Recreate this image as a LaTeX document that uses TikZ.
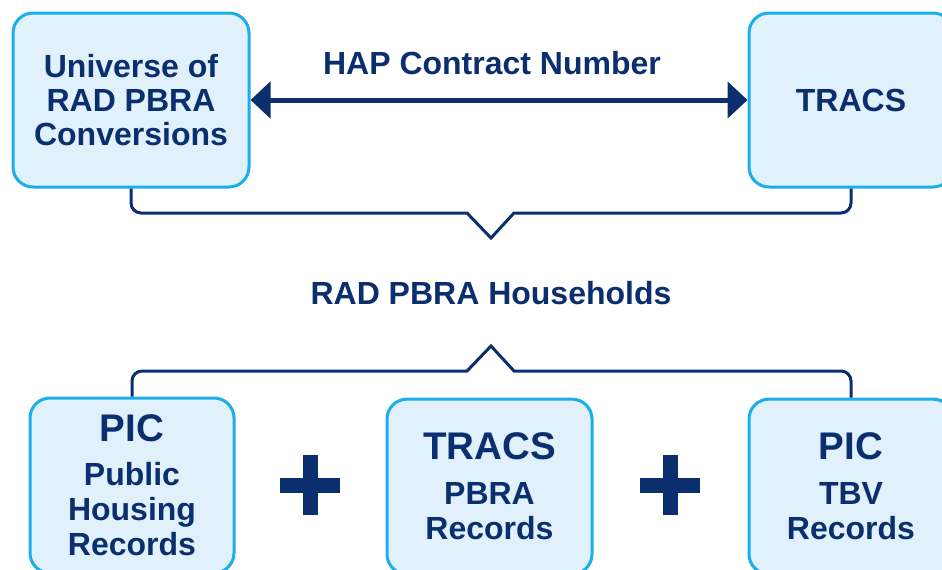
\documentclass[tikz,border=0pt]{standalone}
\usepackage{fontspec}
\setmainfont{Liberation Sans}
\usetikzlibrary{arrows.meta, positioning, calc}
\definecolor{cnavy}{HTML}{0B2F6E}
\definecolor{ccyan}{HTML}{1AAFEA}
\definecolor{cfill}{HTML}{E0F1FB}
\tikzset{
  every picture/.style={font=\bfseries, line width=3pt},
  box/.style={draw=ccyan, fill=cfill, rounded corners=20pt, align=center, text=cnavy, inner sep=0pt, font=\fontsize{32}{34}\selectfont\bfseries},
  lowbox/.style={box, minimum height=175pt, font=\fontsize{32}{35}\selectfont\bfseries},
  arrow/.style={{Triangle[length=20pt,width=36pt]}-{Triangle[length=20pt,width=36pt]}, draw=cnavy, line width=5pt},
  brace/.style={draw=cnavy, line width=3pt},
  note/.style={text=cnavy, inner sep=0pt, font=\fontsize{32}{34}\selectfont\bfseries},
}

\begin{document}
\begin{tikzpicture}[x=1pt, y=-1pt]
  \useasboundingbox (0,0) rectangle (942,570);
  \clip (0,0) rectangle (942,570);
  % sources linked by contract number
  \node[box, minimum width=236pt, minimum height=174pt] (uni) at (131,100) {Universe of\\RAD PBRA\\Conversions};
  \node[box, minimum width=204pt, minimum height=174pt] (tracs) at (851,100) {TRACS};
  \draw[arrow] (uni) -- node[note, above=23pt, xshift=-7pt] {HAP Contract Number} (tracs);
  % households in the middle
  \node[note] (hh) at (491,293) {RAD PBRA Households};
  \coordinate (tipa) at (491,238);
  \coordinate (tipb) at (491,346);
  \draw[brace] (uni.south) [rounded corners=10pt] |- ($(tipa)+(-40,-25)$) [sharp corners] -- ($(tipa)+(-24,-25)$) -- (tipa) -- ($(tipa)+(23,-25)$) -- ($(tipa)+(40,-25)$) [rounded corners=10pt] -| (tracs.south);
  % record sources
  \node[lowbox, minimum width=204pt] (phrec) at (132,485.5) {{\fontsize{38.5}{38}\selectfont PIC}\\[9pt]Public\\Housing\\Records};
  \node[lowbox, minimum width=205pt] (pbrarec) at (489.5,486.6) {{\fontsize{38.5}{38}\selectfont TRACS}\\[10pt]PBRA\\Records};
  \node[lowbox, minimum width=204pt] (tbvrec) at (851,486.6) {{\fontsize{38.5}{38}\selectfont PIC}\\[10pt]TBV\\Records};
  \draw[brace] (phrec.north) [rounded corners=10pt] |- ($(tipb)+(-40,25)$) [sharp corners] -- ($(tipb)+(-24,25)$) -- (tipb) -- ($(tipb)+(23,25)$) -- ($(tipb)+(40,25)$) [rounded corners=10pt] -| (tbvrec.north);
  \foreach \px in {310,670} {
    \fill[cnavy] (\px-30,477.5) rectangle (\px+30,492.5);
    \fill[cnavy] (\px-7.5,455) rectangle (\px+7.5,515);
  }
\end{tikzpicture}
\end{document}
